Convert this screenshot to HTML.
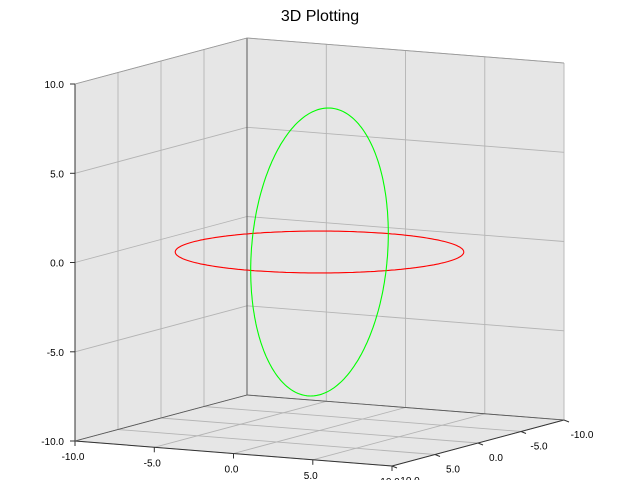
<!DOCTYPE html>
<html><head><meta charset="utf-8"><style>
html,body{margin:0;padding:0;background:#fff;}
svg{display:block;font-family:"Liberation Sans",sans-serif;}
</style></head><body>
<svg id="chart" width="640" height="480" viewBox="0 0 640 480" xmlns="http://www.w3.org/2000/svg">
<text x="320" y="21" text-anchor="middle" font-size="16">3D Plotting</text>
<g id="panes"></g><g id="grid"></g><g id="axes"></g><g id="series"></g>
</svg>
<script>
const xTicks=[-10,-5,0,5,10];
const yTicks=[-10,-5,0,5,10];
const zTicks=[-10,-5,0,5,10];
const redRadius=[8];
const redCenter=[0,0,0];
const greenRadius=[8];
const greenCenter=[0,0,0];
const NS="http://www.w3.org/2000/svg";
function P(x,y,z){return [75+(x+10)*15.85+(10-y)*8.6,441+(x+10)*1.25-(10-y)*2.3-(z+10)*17.85];}
function el(tag,attrs,parent){const e=document.createElementNS(NS,tag);for(const k in attrs)e.setAttribute(k,attrs[k]);document.getElementById(parent).appendChild(e);return e;}
function poly(pts){return pts.map(p=>p[0].toFixed(1)+','+p[1].toFixed(1)).join(' ');}
// panes
let e;
e=el('polygon',{points:poly([P(-10,10,-10),P(-10,-10,-10),P(-10,-10,10),P(-10,10,10)]),fill:'#e6e6e6',stroke:'none'},'panes');

e=el('polygon',{points:poly([P(-10,-10,-10),P(10,-10,-10),P(10,-10,10),P(-10,-10,10)]),fill:'#e6e6e6',stroke:'none'},'panes');

e=el('polygon',{points:poly([P(-10,10,-10),P(10,10,-10),P(10,-10,-10),P(-10,-10,-10)]),fill:'#e6e6e6',stroke:'none'},'panes');

// grid lines
const gs={stroke:'#b4b4b4','stroke-width':0.9,fill:'none'};
function gl(a,b){const g=el('polyline',Object.assign({points:poly([a,b])},gs),'grid');}
xTicks.forEach(x=>{gl(P(x,10,-10),P(x,-10,-10));gl(P(x,-10,-10),P(x,-10,10));});
yTicks.forEach(y=>{gl(P(-10,y,-10),P(10,y,-10));gl(P(-10,y,-10),P(-10,y,10));});
zTicks.forEach(z=>{gl(P(-10,10,z),P(-10,-10,z));gl(P(-10,-10,z),P(10,-10,z));});
// axis lines
function al(a,b,name,c,w){const g=el('polyline',{points:poly([a,b]),stroke:c||'#333',"stroke-width":w||1,fill:'none'},'axes');}
al(P(-10,10,-10),P(10,10,-10),'x-axis-line');
al(P(10,10,-10),P(10,-10,-10),'y-axis-line');
al(P(-10,10,-10),P(-10,10,10),'z-axis-line');
al(P(-10,-10,-10),P(-10,-10,10),'back-edge','#444',0.8);
al(P(-10,10,10),P(-10,-10,10),'top-left-edge','#999',0.8);
al(P(-10,-10,10),P(10,-10,10),'top-back-edge','#999',0.8);
al(P(-10,-10,-10),P(10,-10,-10),'floor-back-edge','#555',0.8);
al(P(-10,10,-10),P(-10,-10,-10),'floor-left-edge','#555',0.8);
function lbl(t,x,y,anchor,name){const g=el('text',{x:x,y:y,'text-anchor':anchor,'font-size':10},'axes');g.textContent=t;}
xTicks.forEach(x=>{const p=P(x,10,-10);al(p,[p[0],p[1]+5],'x-tick');lbl(x.toFixed(1),p[0]-2,p[1]+19,'middle','x-tick-label');});
yTicks.forEach(y=>{const p=P(10,y,-10);al(p,[p[0]+5,p[1]+2],'y-tick');lbl(y.toFixed(1),p[0]+18,p[1]+18,'middle','y-tick-label');});
zTicks.forEach(z=>{const p=P(-10,10,z);al(p,[p[0]-5,p[1]],'z-tick');lbl(z.toFixed(1),p[0]-11,p[1]+4,'end','z-tick-label');});
// series
function circle(fn,color,name){const pts=[];for(let i=0;i<=240;i++){const t=i/240*2*Math.PI;pts.push(fn(t));}
const g=el('polyline',{points:poly(pts),stroke:color,'stroke-width':1.1,fill:'none'},'series');}
circle(t=>P(redCenter[0]+redRadius[0]*Math.cos(t),redCenter[1]+redRadius[0]*Math.sin(t),redCenter[2]),'#ff0000','red-horizontal-circle');
circle(t=>P(greenCenter[0],greenCenter[1]+greenRadius[0]*Math.cos(t),greenCenter[2]+greenRadius[0]*Math.sin(t)),'#00ff00','green-vertical-circle');
</script>
</body></html>
